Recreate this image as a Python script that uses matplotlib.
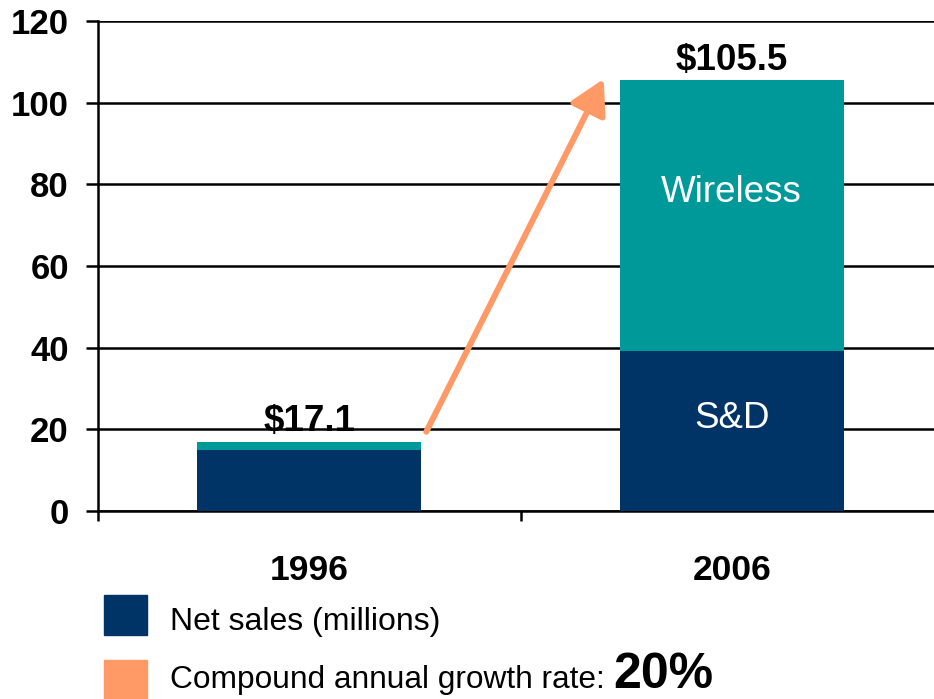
import matplotlib
matplotlib.use("Agg")
import matplotlib.pyplot as plt
from matplotlib.patches import Rectangle

plt.rcParams['font.family'] = ['Liberation Sans', 'DejaVu Sans']

# data
years = ['1996', '2006']
sd_sales = [15.0, 39.3]
wireless_sales = [2.0, 66.2]
totals = ['$17.1', '$105.5']
yticks = [0, 20, 40, 60, 80, 100, 120]
cagr = '20%'

NAVY = '#003366'
TEAL = '#009999'
ORANGE = '#FF9966'

fig = plt.figure(figsize=(9.34, 6.99), dpi=100)
ax = fig.add_axes([98 / 934, 1 - 511 / 699, 845 / 934, 490 / 699])

x = range(len(years))
ax.bar(x, sd_sales, width=0.53, color=NAVY, zorder=3)
ax.bar(x, wireless_sales, width=0.53, bottom=sd_sales, color=TEAL, zorder=3)

ax.set_xlim(-0.5, 1.5)
ax.set_ylim(0, 120)
ax.set_yticks(yticks)
ax.set_yticklabels([str(v) for v in yticks], fontsize=25, fontweight='bold')
ax.yaxis.grid(True, color='black', linewidth=1.8, zorder=1)
ax.set_axisbelow(True)
ax.tick_params(axis='y', length=9, width=1.8, pad=12, direction='out')

ax.set_xticks(list(x))
ax.set_xticklabels(years, fontsize=25.5, fontweight='bold')
ax.set_xticks([-0.5, 0.5, 1.5], minor=True)
ax.tick_params(axis='x', which='major', length=0, pad=31)
ax.tick_params(axis='x', which='minor', length=7, width=1.8, direction='out')

for s in ['top', 'right']:
    ax.spines[s].set_visible(False)
ax.spines['left'].set_linewidth(1.8)
ax.spines['bottom'].set_linewidth(1.8)

# totals above bars
for i, lbl in enumerate(totals):
    top = sd_sales[i] + wireless_sales[i]
    ax.text(i, top + 0.6, lbl, ha='center', va='bottom',
            fontsize=26.5, fontweight='bold', zorder=5)

# segment labels inside the 2006 bar
ax.text(1, sd_sales[1] + wireless_sales[1] / 2 + 5.5, 'Wireless', ha='center', va='center',
        color='white', fontsize=26.5, zorder=5)
ax.text(1, sd_sales[1] / 2 + 3, 'S&D', ha='center', va='center',
        color='white', fontsize=26.5, zorder=5)

# growth arrow
ax.annotate('', xy=(0.697, 105.8), xytext=(0.277, 19.4),
            arrowprops=dict(arrowstyle='-|>,head_length=0.8,head_width=0.45',
                            mutation_scale=26, color=ORANGE, lw=4.3,
                            shrinkA=0, shrinkB=0),
            zorder=6, annotation_clip=False)

# legend-like key below the chart
fig.add_artist(Rectangle((104 / 934, 1 - 635 / 699), 43 / 934, 40 / 699,
                         transform=fig.transFigure, color=NAVY))
fig.add_artist(Rectangle((104 / 934, 1 - 702 / 699), 43 / 934, 42 / 699,
                         transform=fig.transFigure, color=ORANGE))
fig.text(170 / 934, 1 - 630 / 699, 'Net sales (millions)', fontsize=23, va='baseline')
t = fig.text(170 / 934, 1 - 688 / 699, 'Compound annual growth rate: ', fontsize=22.8,
             va='baseline')
fig.canvas.draw()
bb = t.get_window_extent()
fig.text(bb.x1 / 934, 1 - 688 / 699, cagr, fontsize=36, fontweight='bold', va='baseline')

fig.savefig('out.png', dpi=100)
